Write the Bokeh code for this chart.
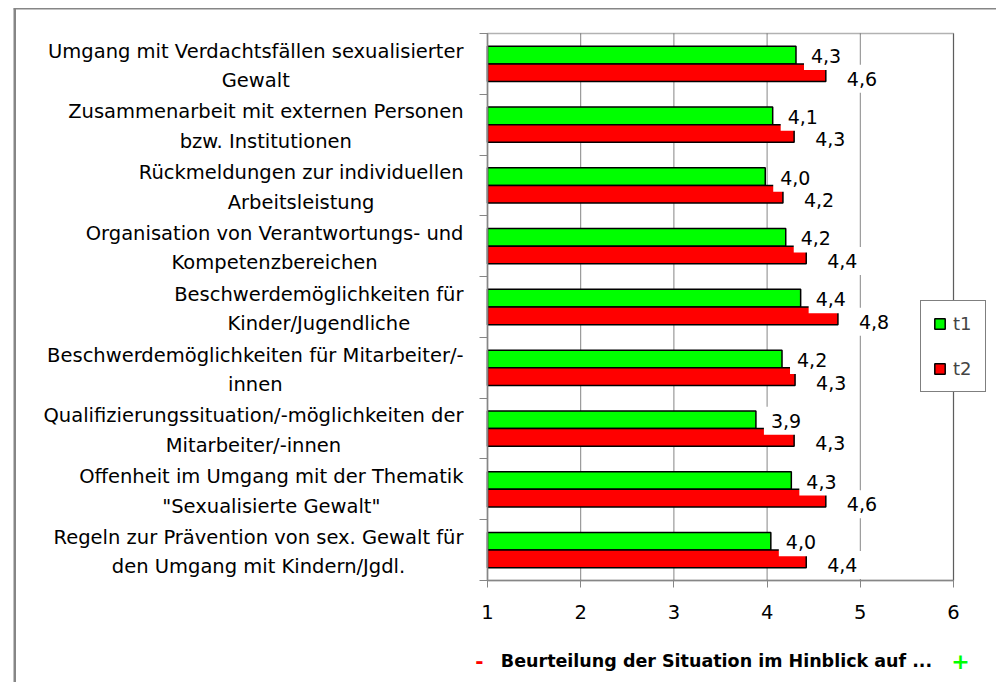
from bokeh.plotting import figure
from bokeh.models import (Range1d, FixedTicker, Label, Legend, LegendItem,
                          BoxAnnotation, ColumnDataSource, LinearAxis)
from bokeh.transform import dodge
from bokeh.embed import file_html
from bokeh.resources import INLINE

categories = [
    "Umgang mit Verdachtsfällen sexualisierter\nGewalt",
    "Zusammenarbeit mit externen Personen\nbzw. Institutionen",
    "Rückmeldungen zur individuellen\nArbeitsleistung",
    "Organisation von Verantwortungs- und\nKompetenzbereichen",
    "Beschwerdemöglichkeiten für\nKinder/Jugendliche",
    "Beschwerdemöglichkeiten für Mitarbeiter/-\ninnen",
    "Qualifizierungssituation/-möglichkeiten der\nMitarbeiter/-innen",
    "Offenheit im Umgang mit der Thematik\n\"Sexualisierte Gewalt\"",
    "Regeln zur Prävention von sex. Gewalt für\nden Umgang mit Kindern/Jgdl.",
]
t1 = [4.31, 4.06, 3.98, 4.20, 4.36, 4.16, 3.88, 4.26, 4.04]
t2 = [4.63, 4.29, 4.17, 4.42, 4.76, 4.30, 4.29, 4.63, 4.42]
series_names = ["t1", "t2"]
x_ticks = [1, 2, 3, 4, 5, 6]
axis_title = "Beurteilung der Situation im Hinblick auf ..."

FONT = "DejaVu Sans"
GRAY = "#868686"
GREEN = "#00FF00"
RED = "#FF0000"

n = len(categories)
pos = [n - 0.5 - i for i in range(n)]
src = ColumnDataSource(dict(y=pos, t1=t1, t2=t2))

# canvas and plot-area geometry (pixels)
W, H = 996, 682
PA_L, PA_R, PA_T, PA_B = 487, 953, 33, 580
xmin, xmax = x_ticks[0], x_ticks[-1]
sx = (PA_R - PA_L) / (xmax - xmin)
sy = (PA_B - PA_T) / n
x_range = Range1d(xmin - PA_L / sx, xmax + (W - PA_R) / sx)
y_range = Range1d(0 - (H - PA_B) / sy, n + PA_T / sy)

p = figure(width=W, height=H, x_range=x_range, y_range=y_range,
           output_backend="svg", toolbar_location=None,
           x_axis_location=None, y_axis_location=None,
           min_border=0)
p.background_fill_color = "white"
p.border_fill_color = "white"
p.outline_line_color = None
p.xgrid.visible = False
p.ygrid.visible = False

# plot-area border (top/right black), under the axes
p.add_layout(BoxAnnotation(left=xmin, right=xmax, bottom=0, top=n,
                           fill_alpha=0, line_color="black", line_width=1.5,
                           level="underlay"))
# vertical grid lines
p.segment(x0=x_ticks, x1=x_ticks, y0=[0] * len(x_ticks), y1=[n] * len(x_ticks),
          line_color=GRAY, line_width=1, level="underlay")

bh = 0.29
r1 = p.hbar(y=dodge("y", bh / 2), left=xmin, right="t1", height=bh, source=src,
            fill_color=GREEN, line_color="black", line_width=1.5)
r2 = p.hbar(y=dodge("y", -bh / 2), left=xmin, right="t2", height=bh, source=src,
            fill_color=RED, line_color="black", line_width=1.5)

# x axis (line + ticks), fixed at y=0
xa = LinearAxis(fixed_location=0, bounds=(xmin, xmax),
                ticker=FixedTicker(ticks=x_ticks))
xa.axis_line_color = GRAY
xa.axis_line_width = 1.5
xa.major_tick_line_color = GRAY
xa.major_tick_in = 7
xa.major_tick_out = 0
xa.minor_tick_line_color = None
xa.major_label_text_font_size = "0px"
xa.major_label_standoff = 0
xa.major_label_overrides = {t: "" for t in x_ticks}
p.add_layout(xa, "above")

# y axis (line + ticks at category boundaries), fixed at x=1
ya = LinearAxis(fixed_location=xmin, bounds=(0, n),
                ticker=FixedTicker(ticks=list(range(n + 1))))
ya.axis_line_color = GRAY
ya.axis_line_width = 1.5
ya.major_tick_line_color = GRAY
ya.major_tick_in = 8
ya.major_tick_out = 0
ya.minor_tick_line_color = None
ya.major_label_text_font_size = "0px"
ya.major_label_standoff = 0
ya.major_label_overrides = {i: "" for i in range(n + 1)}
p.add_layout(ya, "right")

# x tick labels
for t in x_ticks:
    p.add_layout(Label(x=t, y=0, y_offset=-31, text=str(t), text_align="center",
                       text_baseline="middle", text_font=FONT,
                       text_font_size="19.5px", text_color="black"))

def fmt(v):
    return f"{v:.1f}".replace(".", ",")

# category labels
for yv, cat in zip(pos, categories):
    p.add_layout(Label(x=xmin, y=yv, x_offset=-24, y_offset=-2, text=cat,
                       text_align="center", anchor="center_right",
                       text_baseline="middle", text_line_height=1.28,
                       text_font=FONT, text_font_size="19.5px", text_color="black"))

# value labels (t2 first, then t1 on top)
for yv, v in zip(pos, t2):
    p.add_layout(Label(x=v, y=yv - bh / 2, x_offset=14, y_offset=-6, text=fmt(v),
                       text_align="left", text_baseline="middle",
                       text_font=FONT, text_font_size="19px", text_color="black",
                       background_fill_color="white", padding=7))
for yv, v in zip(pos, t1):
    p.add_layout(Label(x=v, y=yv + bh / 2, x_offset=8, y_offset=-1, text=fmt(v),
                       text_align="left", text_baseline="middle",
                       text_font=FONT, text_font_size="19px", text_color="black",
                       background_fill_color="white", padding=7))

# axis title with - and +
xc = (xmin + xmax) / 2
p.add_layout(Label(x=xc, y=0, x_offset=-4, y_offset=-80, text=axis_title,
                   text_align="center", text_baseline="middle", text_font=FONT,
                   text_font_size="17.5px", text_font_style="bold", text_color="black"))
p.add_layout(Label(x=xc, y=0, x_offset=-241, y_offset=-80, text="-",
                   text_align="center", text_baseline="middle", text_font=FONT,
                   text_font_size="20px", text_font_style="bold", text_color=RED))
p.add_layout(Label(x=xc, y=0, x_offset=240, y_offset=-80, text="+",
                   text_align="center", text_baseline="middle", text_font=FONT,
                   text_font_size="22px", text_font_style="bold", text_color=GREEN))

# legend
legend = Legend(items=[LegendItem(label=series_names[0], renderers=[r1]),
                       LegendItem(label=series_names[1], renderers=[r2])],
                location=(920, H - 392), orientation="vertical")
legend.glyph_width = 13
legend.glyph_height = 13
legend.label_height = 13
legend.spacing = 24
legend.padding = 12
legend.margin = 0
legend.label_standoff = 7
legend.label_text_font = FONT
legend.label_text_font_size = "18px"
legend.label_text_baseline = "middle"
legend.border_line_color = "black"
legend.border_line_width = 1.5
legend.background_fill_color = "white"
legend.background_fill_alpha = 1
p.add_layout(legend)

# outer chart border (left and top edges)
p.add_layout(BoxAnnotation(left=13, right=15.5, top=8, bottom=H,
                           left_units="canvas", right_units="canvas",
                           top_units="canvas", bottom_units="canvas",
                           fill_color=GRAY, fill_alpha=1, line_color=None))
p.add_layout(BoxAnnotation(left=13, right=W, top=7.5, bottom=9,
                           left_units="canvas", right_units="canvas",
                           top_units="canvas", bottom_units="canvas",
                           fill_color=GRAY, fill_alpha=1, line_color=None))

open("out.html", "w").write(file_html(p, INLINE))
